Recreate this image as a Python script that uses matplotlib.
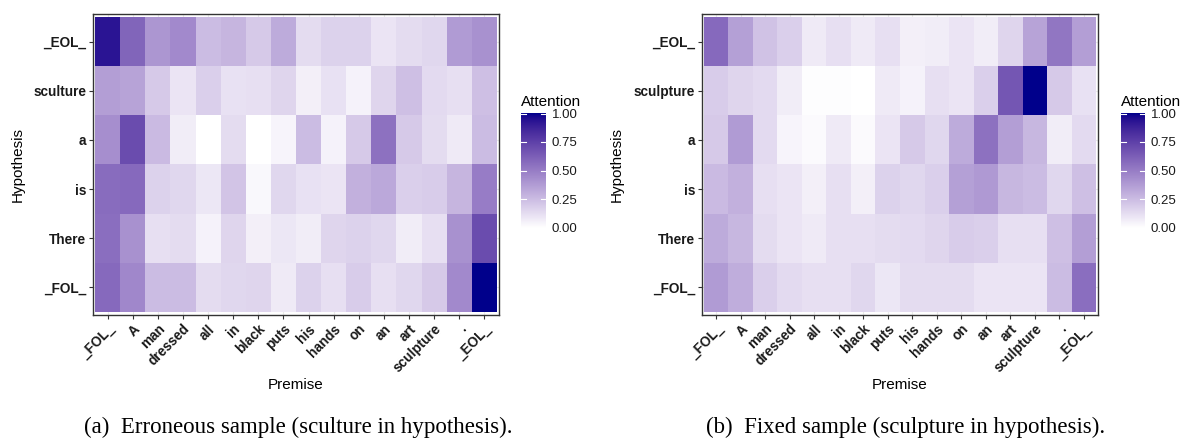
import numpy as np
import matplotlib
matplotlib.use("Agg")
import matplotlib.pyplot as plt
from matplotlib.colors import ListedColormap

premise = ["_FOL_", "A", "man", "dressed", "all", "in", "black", "puts", "his",
           "hands", "on", "an", "art", "sculpture", ".", "_EOL_"]
hyp_a = ["_FOL_", "There", "is", "a", "sculture", "_EOL_"]
hyp_b = ["_FOL_", "There", "is", "a", "sculpture", "_EOL_"]

# rows listed bottom (_FOL_) to top (_EOL_)
att_a = [
    [0.58, 0.46, 0.25, 0.25, 0.13, 0.15, 0.16, 0.08, 0.17, 0.12, 0.19, 0.12, 0.15, 0.20, 0.45, 1.00],
    [0.56, 0.42, 0.12, 0.13, 0.05, 0.16, 0.06, 0.09, 0.07, 0.16, 0.17, 0.15, 0.07, 0.12, 0.42, 0.70],
    [0.57, 0.58, 0.17, 0.15, 0.09, 0.22, 0.03, 0.15, 0.11, 0.10, 0.30, 0.33, 0.18, 0.19, 0.28, 0.50],
    [0.43, 0.70, 0.26, 0.07, 0.00, 0.13, 0.00, 0.04, 0.25, 0.05, 0.20, 0.55, 0.20, 0.13, 0.08, 0.25],
    [0.37, 0.35, 0.20, 0.10, 0.18, 0.11, 0.12, 0.16, 0.06, 0.11, 0.05, 0.16, 0.24, 0.14, 0.12, 0.24],
    [0.93, 0.60, 0.40, 0.45, 0.25, 0.28, 0.20, 0.32, 0.13, 0.17, 0.17, 0.10, 0.13, 0.15, 0.38, 0.42],
]
att_b = [
    [0.38, 0.31, 0.18, 0.14, 0.12, 0.12, 0.15, 0.09, 0.13, 0.13, 0.13, 0.10, 0.10, 0.10, 0.25, 0.56],
    [0.32, 0.27, 0.13, 0.10, 0.08, 0.12, 0.12, 0.13, 0.14, 0.16, 0.19, 0.18, 0.12, 0.12, 0.24, 0.37],
    [0.26, 0.30, 0.12, 0.10, 0.06, 0.12, 0.06, 0.17, 0.15, 0.18, 0.36, 0.39, 0.27, 0.25, 0.15, 0.24],
    [0.20, 0.38, 0.14, 0.04, 0.02, 0.08, 0.02, 0.10, 0.20, 0.15, 0.32, 0.55, 0.37, 0.27, 0.07, 0.14],
    [0.19, 0.16, 0.14, 0.07, 0.01, 0.01, 0.00, 0.08, 0.05, 0.12, 0.10, 0.18, 0.66, 1.00, 0.20, 0.11],
    [0.58, 0.36, 0.23, 0.18, 0.08, 0.12, 0.08, 0.12, 0.06, 0.07, 0.10, 0.07, 0.16, 0.35, 0.53, 0.37],
]

captions = ["(a)  Erroneous sample (sculture in hypothesis).",
            "(b)  Fixed sample (sculpture in hypothesis)."]


# ---- Lab interpolated gradient white -> darkblue (ggplot style) ----
def srgb_to_lab(rgb):
    rgb = np.asarray(rgb, float)
    lin = np.where(rgb <= 0.04045, rgb / 12.92, ((rgb + 0.055) / 1.055) ** 2.4)
    M = np.array([[0.4124564, 0.3575761, 0.1804375],
                  [0.2126729, 0.7151522, 0.0721750],
                  [0.0193339, 0.1191920, 0.9503041]])
    xyz = M @ lin
    wp = np.array([0.95047, 1.0, 1.08883])
    t = xyz / wp
    f = np.where(t > (6 / 29) ** 3, np.cbrt(t), t / (3 * (6 / 29) ** 2) + 4 / 29)
    return np.array([116 * f[1] - 16, 500 * (f[0] - f[1]), 200 * (f[1] - f[2])])


def lab_to_srgb(lab):
    L, a, b = lab
    fy = (L + 16) / 116
    fx = fy + a / 500
    fz = fy - b / 200
    def finv(f):
        return np.where(f > 6 / 29, f ** 3, 3 * (6 / 29) ** 2 * (f - 4 / 29))
    wp = np.array([0.95047, 1.0, 1.08883])
    xyz = np.array([finv(fx), finv(fy), finv(fz)]) * wp
    Minv = np.array([[3.2404542, -1.5371385, -0.4985314],
                     [-0.9692660, 1.8760108, 0.0415560],
                     [0.0556434, -0.2040259, 1.0572252]])
    lin = Minv @ xyz
    lin = np.clip(lin, 0, 1)
    rgb = np.where(lin <= 0.0031308, 12.92 * lin, 1.055 * lin ** (1 / 2.4) - 0.055)
    return np.clip(rgb, 0, 1)


lab0 = srgb_to_lab([1, 1, 1])
lab1 = srgb_to_lab([0, 0, 139 / 255])
cols = [lab_to_srgb(lab0 + (lab1 - lab0) * t) for t in np.linspace(0, 1, 256)]
cmap = ListedColormap(cols)

W, H = 1184, 441
fig = plt.figure(figsize=(W / 100, H / 100), dpi=100)
sans = "Liberation Sans"


def px_axes(x0, y0, x1, y1):
    return fig.add_axes([x0 / W, 1 - y1 / H, (x1 - x0) / W, (y1 - y0) / H])


panels = [
    dict(data=att_a, hyp=hyp_a, box=(93, 14, 499, 315), cbar=(521, 113, 546, 228),
         ylab_x=18, cap_x=298),
    dict(data=att_b, hyp=hyp_b, box=(702, 14, 1098, 315), cbar=(1121, 113, 1145, 228),
         ylab_x=617, cap_x=906),
]

for p in panels:
    ax = px_axes(*p["box"])
    data = np.array(p["data"])
    nx, ny = len(premise), len(p["hyp"])
    ax.pcolormesh(np.arange(nx + 1) - 0.5, np.arange(ny + 1) - 0.5, data,
                  cmap=cmap, vmin=0, vmax=1, zorder=2)
    ax.set_xlim(-0.58, nx - 0.42)
    ax.set_ylim(-0.56, ny - 0.44)
    ax.set_xticks(range(nx))
    ax.set_yticks(range(ny))
    ax.set_xticklabels(premise, rotation=45, ha="right", va="top",
                       rotation_mode="anchor", fontsize=9.8, fontweight="bold",
                       family=sans, color="#1a1a1a")
    ax.set_yticklabels(p["hyp"], fontsize=9.8, fontweight="bold", family=sans,
                       color="#1a1a1a")
    ax.tick_params(length=3, width=0.8, color="#333333", pad=2)
    ax.grid(True, color="#EBEBEB", linewidth=0.8, zorder=0)
    ax.set_axisbelow(True)
    for s in ax.spines.values():
        s.set_color("#333333")
        s.set_linewidth(1.0)
    x0, y0, x1, y1 = p["box"]
    fig.text((x0 + x1) / 2 / W, 1 - 385 / H, "Premise", ha="center", va="center",
             fontsize=11, family=sans)
    fig.text(p["ylab_x"] / W, 1 - (y0 + y1) / 2 / H, "Hypothesis", ha="center",
             va="center", rotation=90, fontsize=11, family=sans)

    # colour bar
    cx0, cy0, cx1, cy1 = p["cbar"]
    cax = px_axes(cx0, cy0, cx1, cy1)
    grad = np.linspace(0, 1, 300).reshape(-1, 1)
    cax.imshow(grad, cmap=cmap, vmin=0, vmax=1, aspect="auto", origin="lower",
               extent=(0, 1, 0, 1))
    cax.set_xlim(0, 1)
    cax.set_ylim(0, 1)
    for tv in [0.25, 0.5, 0.75, 1.0]:
        yv = min(tv, 0.995)
        cax.plot([0, 0.2], [yv, yv], color="white", lw=0.8)
        cax.plot([0.8, 1], [yv, yv], color="white", lw=0.8)
    cax.set_xticks([])
    cax.set_yticks([0, 0.25, 0.5, 0.75, 1.0])
    cax.set_yticklabels(["0.00", "0.25", "0.50", "0.75", "1.00"], fontsize=9.5,
                        family=sans, color="#1a1a1a")
    cax.yaxis.tick_right()
    cax.tick_params(length=0, pad=4)
    for s in cax.spines.values():
        s.set_visible(False)
    fig.text(cx0 / W, 1 - 102 / H, "Attention", ha="left", va="center",
             fontsize=11, family=sans)

for p, cap in zip(panels, captions):
    fig.text(p["cap_x"] / W, 1 - 427 / H, cap, ha="center", va="center",
             fontsize=16.5, family="Liberation Serif")

fig.savefig("out.png", dpi=100)
